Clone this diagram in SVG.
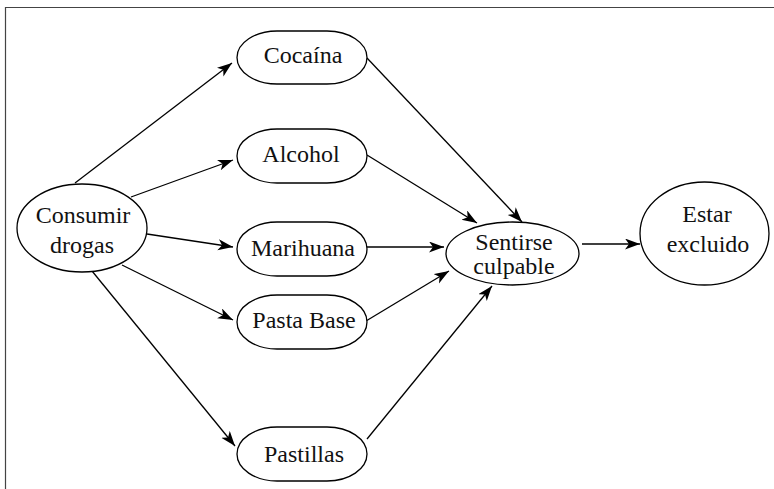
<svg xmlns="http://www.w3.org/2000/svg" width="774" height="489" viewBox="0 0 774 489">
<style>
.n{fill:#fff;stroke:#000;stroke-width:1.3}
.t{font-family:"Liberation Serif","DejaVu Serif",serif;font-size:24px;fill:#111;text-anchor:middle}
.c{stroke:#000;stroke-width:1.3;fill:none;marker-end:url(#ah)}
</style>
<defs>
<marker id="ah" markerWidth="16" markerHeight="12" refX="15" refY="5.5" orient="auto" markerUnits="userSpaceOnUse">
<path d="M0,0 L15,5.5 L0,11 L4,5.5 z" fill="#000"/>
</marker>
</defs>
<rect width="774" height="489" fill="#fff"/>
<path d="M5.5,489 V7.5 H774" fill="none" stroke="#444" stroke-width="1.2"/>
<g id="connectors">
<line class="c" x1="75" y1="183" x2="232" y2="63"/>
<line class="c" x1="131" y1="197" x2="233" y2="160"/>
<line class="c" x1="147" y1="234" x2="233" y2="247"/>
<line class="c" x1="122" y1="265" x2="233" y2="320"/>
<line class="c" x1="92" y1="271" x2="235" y2="446"/>
<line class="c" x1="367" y1="58" x2="522" y2="222"/>
<line class="c" x1="367" y1="155" x2="477" y2="223"/>
<line class="c" x1="367" y1="247" x2="444" y2="247"/>
<line class="c" x1="366" y1="321" x2="449" y2="271"/>
<line class="c" x1="367" y1="439" x2="492" y2="286"/>
<line class="c" x1="582" y1="244" x2="640" y2="244"/>
</g>
<g id="consumir">
<ellipse class="n" cx="82" cy="228" rx="65" ry="44"/>
<text class="t" x="83" y="223">Consumir</text>
<text class="t" x="82" y="253">drogas</text>
</g>
<g id="cocaina">
<rect class="n" x="237" y="31" width="130" height="53" rx="40" ry="26.5"/>
<text class="t" x="303" y="63">Cocaína</text>
</g>
<g id="alcohol">
<rect class="n" x="237" y="129" width="130" height="54" rx="40" ry="27"/>
<text class="t" x="301" y="162">Alcohol</text>
</g>
<g id="marihuana">
<rect class="n" x="237" y="222" width="130" height="54" rx="40" ry="27"/>
<text class="t" x="303" y="256">Marihuana</text>
</g>
<g id="pastabase">
<rect class="n" x="237" y="295" width="130" height="54" rx="40" ry="27"/>
<text class="t" x="304" y="328">Pasta Base</text>
</g>
<g id="pastillas">
<rect class="n" x="237" y="427" width="130" height="54" rx="40" ry="27"/>
<text class="t" x="304" y="462">Pastillas</text>
</g>
<g id="sentirse">
<ellipse class="n" cx="512.5" cy="253.5" rx="66.5" ry="31.5"/>
<text class="t" x="514" y="250">Sentirse</text>
<text class="t" x="514" y="274">culpable</text>
</g>
<g id="estar">
<ellipse class="n" cx="704.5" cy="233.5" rx="64.5" ry="51.5"/>
<text class="t" x="707" y="222">Estar</text>
<text class="t" x="708" y="252">excluido</text>
</g>
</svg>
